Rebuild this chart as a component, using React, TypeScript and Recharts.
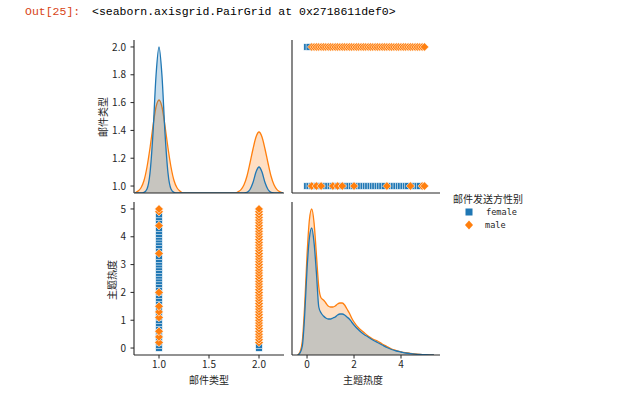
import React from "react";
import { ComposedChart, ScatterChart, Scatter, Area, XAxis, YAxis } from "recharts";

const BLUE = "#1f77b4";
const ORANGE = "#ff7f0e";
const INK = "#262626";
const CJK = '"Noto Sans CJK SC", "Noto Sans", sans-serif';

// 主题热度 values of the scatter points, split by 邮件类型 (1 / 2) and sender gender
const heatFemaleType1 = [
  0, 0.1, 0.2, 0.3, 0.4, 0.5, 0.6, 0.7, 0.8, 0.9, 1.0, 1.1, 1.2, 1.3, 1.4, 1.6,
  1.7, 1.8, 1.9, 2.0, 2.1, 2.2, 2.3, 2.4, 2.5, 2.6, 2.7, 2.8, 2.9, 3.0, 3.1, 3.2,
  3.3, 3.5, 3.6, 3.7, 3.8, 3.9, 4.0, 4.1, 4.2, 4.3, 4.5, 4.6, 4.7, 4.8,
];
const heatFemaleType2 = [0, 0.1];
const heatMaleType1 = [0.2, 0.4, 0.6, 1.1, 1.3, 1.5, 2.0, 3.4, 4.4, 4.9, 5.0];
const heatMaleType2 = [
  0.2, 0.3, 0.4, 0.5, 0.6, 0.7, 0.8, 0.9, 1.0, 1.1, 1.2, 1.3, 1.4, 1.5, 1.6, 1.7,
  1.8, 1.9, 2.0, 2.1, 2.2, 2.3, 2.4, 2.5, 2.6, 2.7, 2.8, 2.9, 3.0, 3.1, 3.2, 3.3,
  3.4, 3.5, 3.6, 3.7, 3.8, 3.9, 4.0, 4.1, 4.2, 4.3, 4.4, 4.5, 4.6, 4.7, 4.8, 4.9, 5.0,
];

// kde curves (relative heights, density axis is hidden)
const typeGrid = [
  0.76, 0.79, 0.82, 0.85, 0.88, 0.91, 0.94, 0.97, 1.0, 1.03, 1.06, 1.09, 1.12, 1.15, 1.18, 1.21, 1.24,
  1.5,
  1.76, 1.79, 1.82, 1.85, 1.88, 1.91, 1.94, 1.97, 2.0, 2.03, 2.06, 2.09, 2.12, 2.15, 2.18, 2.21, 2.24,
];
const typeKdeFemale = [
  0, 0, 0, 0.6, 4, 20, 60, 117, 146, 117, 60, 20, 4, 0.6, 0, 0, 0,
  0,
  0, 0, 0, 0.1, 0.7, 3.5, 10.5, 21, 26, 21, 10.5, 3.5, 0.7, 0.1, 0, 0, 0,
];
const typeKdeMale = [
  0, 1.9, 5.2, 12.5, 26, 45, 67, 86, 93, 86, 67, 45, 26, 12.5, 5.2, 1.9, 0,
  0,
  0, 1.2, 3.4, 8.2, 17, 30, 44, 56, 61, 56, 44, 30, 17, 8.2, 3.4, 1.2, 0,
];

const heatGrid = [
  -0.4, -0.3, -0.2, -0.1, 0, 0.1, 0.2, 0.3, 0.4, 0.5, 0.6, 0.7, 0.8, 0.9, 1.0, 1.1,
  1.2, 1.3, 1.4, 1.5, 1.6, 1.7, 1.8, 1.9, 2.0, 2.2, 2.4, 2.6, 2.8, 3.0, 3.2, 3.4,
  3.6, 3.8, 4.0, 4.2, 4.4, 4.6, 4.8, 5.0, 5.2, 5.4,
];
const heatKdeFemale = [
  0, 2, 9, 40, 86, 117, 127, 112, 82, 48, 42, 39, 37, 36, 36, 37,
  38, 40, 41, 41, 40, 38, 36, 33, 30, 25, 21, 18, 15, 12.5, 10, 7.5,
  5.5, 4, 3, 2, 1.4, 0.9, 0.5, 0.3, 0.1, 0,
];
const heatKdeMale = [
  0, 3, 14, 50, 100, 135, 146, 132, 100, 68, 57, 55, 52, 49, 48, 48,
  49, 51, 52, 52, 50, 46, 42, 37, 33, 27, 23, 19, 16, 14, 11, 8.5,
  6, 4.5, 3.2, 2.3, 1.6, 1.1, 0.7, 0.4, 0.2, 0,
];

const typeTicks = [1, 1.2, 1.4, 1.6, 1.8, 2];
const typeXTicks = [1, 1.5, 2];
const heatTicks = [0, 1, 2, 3, 4, 5];
const heatXTicks = [0, 2, 4];

const typeKde = typeGrid.map((x, i) => ({ x, female: typeKdeFemale[i], male: typeKdeMale[i] }));
const heatKde = heatGrid.map((x, i) => ({ x, female: heatKdeFemale[i], male: heatKdeMale[i] }));
const toPts = (heats: number[], type: number) => heats.map((heat) => ({ type, heat }));
const femalePts = [...toPts(heatFemaleType1, 1), ...toPts(heatFemaleType2, 2)];
const malePts = [...toPts(heatMaleType1, 1), ...toPts(heatMaleType2, 2)];

const Square = (p: any) => (
  <rect x={p.cx - 3.3} y={p.cy - 3.3} width={6.6} height={6.6} fill={BLUE} stroke="#fff" strokeWidth={0.6} />
);
const Diamond = (p: any) => (
  <polygon
    points={`${p.cx},${p.cy - 4.3} ${p.cx + 4.3},${p.cy} ${p.cx},${p.cy + 4.3} ${p.cx - 4.3},${p.cy}`}
    fill={ORANGE}
    stroke="#fff"
    strokeWidth={0.6}
  />
);

const axisBits = {
  axisLine: { stroke: INK, strokeWidth: 1.1 },
  tickLine: { stroke: INK, strokeWidth: 1 },
  tickSize: 3.5,
};
const tickFont = { fill: INK, fontSize: 10, fontFamily: CJK };
const fmt1 = (v: number) => v.toFixed(1);

const LEFT_M = { top: 10, right: 4, bottom: 0, left: 10 };
const RIGHT_M = { top: 10, right: 4, bottom: 0, left: 6 };
const TYPE_DOM: [number, number] = [0.95, 2.05];
const TYPE_XDOM: [number, number] = [0.75, 2.25];
const HEAT_DOM: [number, number] = [-0.25, 5.25];
const HEAT_XDOM: [number, number] = [-0.64, 5.66];
const KDE_DOM: [number, number] = [0, 153];

const kdeAreas = () => [
  <Area key="m" yAxisId="d" type="monotone" dataKey="male" stroke={ORANGE} strokeWidth={1.3}
    fill={ORANGE} fillOpacity={0.25} dot={false} activeDot={false} isAnimationActive={false} />,
  <Area key="f" yAxisId="d" type="monotone" dataKey="female" stroke={BLUE} strokeWidth={1.3}
    fill={BLUE} fillOpacity={0.25} dot={false} activeDot={false} isAnimationActive={false} />,
];

const abs = (left: number, top: number): React.CSSProperties => ({ position: "absolute", left, top });

const AxisTitle = ({ x, y, text, vertical }: { x: number; y: number; text: string; vertical?: boolean }) => (
  <div
    style={{
      position: "absolute", left: x, top: y, fontFamily: CJK, fontSize: 10, color: INK, whiteSpace: "nowrap",
      lineHeight: 1, transform: `translate(-50%, -50%)${vertical ? " rotate(-90deg)" : ""}`,
    }}
  >
    {text}
  </div>
);

export default function App() {
  return (
    <div style={{ position: "absolute", left: 0, top: 0, width: 633, height: 398, background: "#fff" }}>
      <div style={{ ...abs(25, 5), fontFamily: '"Liberation Mono", monospace', fontSize: 11.5, color: "#d84315", whiteSpace: "pre" }}>
        Out[25]:
      </div>
      <div style={{ ...abs(92, 5), fontFamily: '"Liberation Mono", monospace', fontSize: 11.5, color: "#000", whiteSpace: "pre" }}>
        {"<seaborn.axisgrid.PairGrid at 0x2718611def0>"}
      </div>

      {/* top-left: kde of 邮件类型 */}
      <div style={abs(94, 30)}>
        <ComposedChart width={194} height={171} data={typeKde} margin={LEFT_M}>
          <XAxis type="number" dataKey="x" domain={TYPE_XDOM} allowDataOverflow ticks={typeXTicks} tick={false} height={8} {...axisBits} />
          <YAxis yAxisId="l" type="number" domain={TYPE_DOM} allowDataOverflow ticks={typeTicks} width={30}
            tick={tickFont} tickFormatter={fmt1} tickMargin={4.5} interval={0} {...axisBits} />
          <YAxis yAxisId="d" orientation="right" domain={KDE_DOM} allowDataOverflow hide />
          {kdeAreas()}
        </ComposedChart>
      </div>

      {/* top-right: 主题热度 vs 邮件类型 */}
      <div style={abs(282, 30)}>
        <ScatterChart width={162} height={171} margin={RIGHT_M}>
          <XAxis type="number" dataKey="heat" domain={HEAT_XDOM} allowDataOverflow ticks={heatXTicks} tick={false} height={8} {...axisBits} />
          <YAxis type="number" dataKey="type" domain={TYPE_DOM} allowDataOverflow ticks={typeTicks} tick={false} width={4} interval={0} {...axisBits} />
          <Scatter data={femalePts} shape={Square} isAnimationActive={false} />
          <Scatter data={malePts} shape={Diamond} isAnimationActive={false} />
        </ScatterChart>
      </div>

      {/* bottom-left: 邮件类型 vs 主题热度 */}
      <div style={abs(94, 192)}>
        <ScatterChart width={194} height={183} margin={LEFT_M}>
          <XAxis type="number" dataKey="type" domain={TYPE_XDOM} allowDataOverflow ticks={typeXTicks} height={20}
            tick={tickFont} tickFormatter={fmt1} tickMargin={2.5} interval={0} {...axisBits} />
          <YAxis type="number" dataKey="heat" domain={HEAT_DOM} allowDataOverflow ticks={heatTicks} width={30}
            tick={tickFont} tickMargin={4.5} interval={0} {...axisBits} />
          <Scatter data={femalePts} shape={Square} isAnimationActive={false} />
          <Scatter data={malePts} shape={Diamond} isAnimationActive={false} />
        </ScatterChart>
      </div>

      {/* bottom-right: kde of 主题热度 */}
      <div style={abs(282, 192)}>
        <ComposedChart width={162} height={183} data={heatKde} margin={RIGHT_M}>
          <XAxis type="number" dataKey="x" domain={HEAT_XDOM} allowDataOverflow ticks={heatXTicks} height={20}
            tick={tickFont} tickMargin={2.5} interval={0} {...axisBits} />
          <YAxis yAxisId="l" type="number" domain={HEAT_DOM} allowDataOverflow ticks={heatTicks} tick={false} width={4} interval={0} {...axisBits} />
          <YAxis yAxisId="d" orientation="right" domain={KDE_DOM} allowDataOverflow hide />
          {kdeAreas()}
        </ComposedChart>
      </div>

      <AxisTitle x={103} y={117} text="邮件类型" vertical />
      <AxisTitle x={112} y={280} text="主题热度" vertical />
      <AxisTitle x={209} y={380} text="邮件类型" />
      <AxisTitle x={363} y={380} text="主题热度" />

      {/* legend */}
      <div style={{ ...abs(453, 193), fontFamily: CJK, fontSize: 10, color: INK, whiteSpace: "nowrap", lineHeight: "12px" }}>
        邮件发送方性别
      </div>
      <svg style={abs(462, 206)} width={14} height={26}>
        <rect x={3.5} y={2.5} width={7} height={7} fill={BLUE} />
        <polygon points="7,14.5 11,19 7,23.5 3,19" fill={ORANGE} />
      </svg>
      <div style={{ ...abs(486, 206), fontFamily: '"DejaVu Sans Mono", monospace', fontSize: 8.6, color: INK, lineHeight: "12px" }}>
        female
      </div>
      <div style={{ ...abs(485, 219), fontFamily: '"DejaVu Sans Mono", monospace', fontSize: 8.6, color: INK, lineHeight: "12px" }}>
        male
      </div>
    </div>
  );
}
